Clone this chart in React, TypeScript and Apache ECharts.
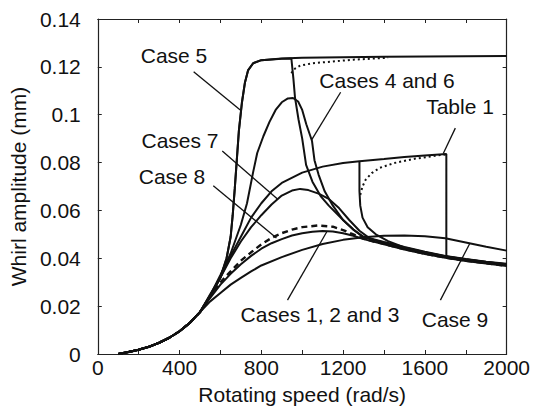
import React, { useEffect, useRef } from "react";
import * as echarts from "echarts";

// Shared run-up part of every response curve (rad/s, mm)
const baseSpeed = [100, 150, 200, 250, 300, 350, 400, 450, 500];
const baseAmp = [0, 0.0008, 0.0018, 0.003, 0.0047, 0.0068, 0.0095, 0.013, 0.0175];

// Case 5: jumps onto the large-orbit branch near 700 rad/s
const case5Speed = [550, 600, 630, 650, 660, 670, 680, 690, 705, 720, 735, 760, 800, 900, 1000, 1200, 1400, 1600, 1800, 2000];
const case5Amp = [0.024, 0.032, 0.04, 0.049, 0.058, 0.069, 0.081, 0.093, 0.105, 0.1135, 0.1185, 0.1215, 0.1228, 0.1235, 0.1238, 0.124, 0.1242, 0.1243, 0.1244, 0.1245];

// Case 6: same branch, drops back down near 950 rad/s
const case6Speed = [550, 600, 630, 650, 660, 670, 680, 690, 705, 720, 735, 760, 800, 900, 947, 957, 965, 982, 1000, 1019, 1050, 1090, 1130, 1200, 1250, 1300, 1400, 1500, 1600, 1700, 1800, 1900, 2000];
const case6Amp = [0.024, 0.032, 0.04, 0.049, 0.058, 0.069, 0.081, 0.093, 0.105, 0.1135, 0.1185, 0.1215, 0.1228, 0.1234, 0.1235, 0.115, 0.107, 0.098, 0.09, 0.079, 0.072, 0.066, 0.062, 0.056, 0.052, 0.0487, 0.0466, 0.0444, 0.0424, 0.0408, 0.0395, 0.0384, 0.0374];

// Unstable branch next to the Case 6 drop
const topDotSpeed = [947, 960, 990, 1050, 1145, 1250, 1420];
const topDotAmp = [0.1173, 0.119, 0.1205, 0.1215, 0.1222, 0.123, 0.1238];

// Case 4: resonance peak around 955 rad/s
const case4Speed = [550, 600, 650, 700, 730, 760, 780, 810, 840, 870, 900, 930, 955, 980, 1000, 1020, 1048, 1060, 1080, 1110, 1150, 1200, 1250, 1300, 1400, 1500, 1600, 1700, 1800, 1900, 2000];
const case4Amp = [0.0245, 0.033, 0.042, 0.054, 0.063, 0.076, 0.084, 0.091, 0.097, 0.102, 0.1052, 0.1068, 0.107, 0.1055, 0.102, 0.096, 0.089, 0.081, 0.075, 0.068, 0.062, 0.056, 0.052, 0.049, 0.0468, 0.0447, 0.0427, 0.041, 0.0397, 0.0386, 0.0377];

// Table 1 parameters: slow rise, jump down at 1705 rad/s
const table1Speed = [550, 600, 650, 700, 750, 800, 850, 900, 1000, 1100, 1200, 1280, 1400, 1500, 1600, 1705, 1705, 1800, 1900, 2000];
const table1Amp = [0.0245, 0.032, 0.041, 0.049, 0.057, 0.063, 0.068, 0.0715, 0.0758, 0.0783, 0.0798, 0.0806, 0.0815, 0.0823, 0.083, 0.0836, 0.0403, 0.0392, 0.0381, 0.0371];

// Table 1 parameters: alternative drop at 1280 rad/s
const table1DropSpeed = [1280, 1280, 1284, 1295, 1320, 1360, 1420, 1500, 1600, 1700, 1800, 1900, 2000];
const table1DropAmp = [0.0806, 0.068, 0.062, 0.057, 0.053, 0.05, 0.0472, 0.0445, 0.0425, 0.0409, 0.0396, 0.0385, 0.0375];

// Table 1 unstable branch between the two drops
const table1DotSpeed = [1284, 1295, 1310, 1340, 1380, 1450, 1550, 1650, 1700];
const table1DotAmp = [0.0665, 0.07, 0.0728, 0.0756, 0.0778, 0.0798, 0.0816, 0.0828, 0.0834];

// Case 7
const case7Speed = [550, 600, 650, 700, 750, 800, 850, 900, 950, 990, 1030, 1080, 1130, 1180, 1230, 1280, 1330, 1400, 1500, 1600, 1700, 1800, 1900, 2000];
const case7Amp = [0.025, 0.032, 0.04, 0.047, 0.053, 0.058, 0.0625, 0.0662, 0.0683, 0.069, 0.0685, 0.067, 0.0648, 0.061, 0.056, 0.0515, 0.0483, 0.0463, 0.0442, 0.0422, 0.0406, 0.0393, 0.0382, 0.0372];

// Case 8 (dashed)
const case8Speed = [550, 600, 650, 700, 750, 800, 850, 900, 950, 1000, 1075, 1150, 1200, 1250, 1300, 1350, 1400, 1500, 1600, 1700, 1800, 1900, 2000];
const case8Amp = [0.024, 0.03, 0.0345, 0.039, 0.0425, 0.0458, 0.0485, 0.0505, 0.052, 0.053, 0.0537, 0.0532, 0.0518, 0.05, 0.0482, 0.047, 0.046, 0.0438, 0.0419, 0.0403, 0.039, 0.0379, 0.0369];

// Cases 1, 2 and 3 (coincident)
const case1Speed = [550, 600, 650, 700, 750, 800, 850, 900, 950, 1000, 1050, 1100, 1150, 1200, 1250, 1300, 1400, 1500, 1600, 1700, 1800, 1900, 2000];
const case1Amp = [0.0235, 0.029, 0.0335, 0.0375, 0.041, 0.044, 0.0463, 0.048, 0.0495, 0.0505, 0.0511, 0.0514, 0.0512, 0.0505, 0.0494, 0.048, 0.0459, 0.0437, 0.0418, 0.0402, 0.0389, 0.0378, 0.0368];

// Case 9
const case9Speed = [550, 600, 650, 700, 750, 800, 900, 1000, 1100, 1200, 1300, 1400, 1500, 1600, 1700, 1800, 1900, 2000];
const case9Amp = [0.022, 0.0255, 0.029, 0.0318, 0.0345, 0.037, 0.0405, 0.0435, 0.046, 0.0477, 0.0488, 0.0494, 0.0495, 0.0492, 0.0484, 0.0466, 0.0448, 0.0432];

// Annotation leader lines, [from, to] in (rad/s, mm)
const leaderLines = [
  [[469, 0.118], [697, 0.102]],
  [[1188, 0.1094], [1046, 0.0895]],
  [[1749, 0.0944], [1690, 0.0838]],
  [[609, 0.0848], [879, 0.0648]],
  [[565, 0.0703], [874, 0.0485]],
  [[928, 0.0225], [1121, 0.0512]],
  [[1676, 0.0225], [1821, 0.0464]],
];

// Annotation texts with their centre positions (px)
const annotationTexts = ["Case 5", "Cases 4 and 6", "Table 1", "Cases 7", "Case 8", "Cases 1, 2 and 3", "Case 9"];
const annotationPos = [
  [174, 55],
  [387, 80],
  [460, 106],
  [180, 140],
  [172, 176],
  [320, 314],
  [455, 319],
];

const FONT = "'Liberation Sans', Arial, Helvetica, sans-serif";
const INK = "#111";

const zip = (xs: number[], ys: number[]) => xs.map((x, i) => [x, ys[i]]);
const withBase = (xs: number[], ys: number[]) => zip([...baseSpeed, ...xs], [...baseAmp, ...ys]);

function curve(name: string, data: number[][], extra: any = {}) {
  return {
    type: "line",
    name,
    data,
    xAxisIndex: 0,
    yAxisIndex: 0,
    symbol: "none",
    smooth: false,
    silent: true,
    lineStyle: { color: INK, width: 2, ...(extra.lineStyle || {}) },
    z: extra.z ?? 3,
  };
}

export default function App() {
  const ref = useRef<HTMLDivElement>(null);

  useEffect(() => {
    if (!ref.current) return;
    const chart = echarts.init(ref.current, null, { renderer: "svg" });

    const textStyle = { fontFamily: FONT, fontSize: 21, color: INK };

    const series: any[] = [
      curve("Cases 1, 2 and 3", withBase(case1Speed, case1Amp)),
      curve("Case 8", withBase(case8Speed, case8Amp), { lineStyle: { type: [6, 4], width: 2.4 } }),
      curve("Case 9", withBase(case9Speed, case9Amp)),
      curve("Case 7", withBase(case7Speed, case7Amp)),
      curve("Case 4", withBase(case4Speed, case4Amp)),
      curve("Case 6", withBase(case6Speed, case6Amp)),
      curve("Case 5", withBase(case5Speed, case5Amp)),
      curve("Table 1", withBase(table1Speed, table1Amp)),
      curve("Table 1 drop", zip(table1DropSpeed, table1DropAmp)),
      curve("Case 6 unstable", zip(topDotSpeed, topDotAmp), { lineStyle: { type: [2, 3], width: 2 } }),
      curve("Table 1 unstable", zip(table1DotSpeed, table1DotAmp), { lineStyle: { type: [2, 3], width: 2 } }),
      ...leaderLines.map((seg, i) =>
        curve("leader " + i, seg, { lineStyle: { width: 1.3 }, z: 2 })
      ),
    ];

    const axisLineStyle = { color: "#222", width: 1.2 };

    chart.setOption({
      animation: false,
      backgroundColor: "#fff",
      grid: { left: 96, right: 23, top: 19, bottom: 62, containLabel: false },
      xAxis: [
        {
          type: "value",
          min: 0,
          max: 2000,
          interval: 200,
          axisLine: { show: true, onZero: false, lineStyle: axisLineStyle },
          axisTick: { show: true, inside: true, length: 4, lineStyle: { color: "#222", width: 1 } },
          axisLabel: {
            ...textStyle,
            margin: 3,
            formatter: (v: number) => (v % 400 === 0 ? String(v) : ""),
          },
          splitLine: { show: false },
          name: "Rotating speed (rad/s)",
          nameLocation: "middle",
          nameGap: 30,
          nameTextStyle: textStyle,
        },
        {
          type: "value",
          position: "top",
          min: 0,
          max: 2000,
          interval: 200,
          axisLine: { show: true, onZero: false, lineStyle: axisLineStyle },
          axisTick: { show: true, inside: true, length: 4, lineStyle: { color: "#222", width: 1 } },
          axisLabel: { show: false },
          splitLine: { show: false },
        },
      ],
      yAxis: [
        {
          type: "value",
          min: 0,
          max: 0.14,
          interval: 0.02,
          axisLine: { show: true, onZero: false, lineStyle: axisLineStyle },
          axisTick: { show: true, inside: true, length: 4, lineStyle: { color: "#222", width: 1 } },
          axisLabel: {
            ...textStyle,
            margin: 17,
            formatter: (v: number) => String(parseFloat(v.toFixed(2))),
          },
          splitLine: { show: false },
          name: "Whirl amplitude (mm)",
          nameLocation: "middle",
          nameGap: 64,
          nameTextStyle: textStyle,
        },
        {
          type: "value",
          position: "right",
          min: 0,
          max: 0.14,
          interval: 0.02,
          axisLine: { show: true, onZero: false, lineStyle: axisLineStyle },
          axisTick: { show: true, inside: true, length: 4, lineStyle: { color: "#222", width: 1 } },
          axisLabel: { show: false },
          splitLine: { show: false },
        },
      ],
      series,
      graphic: annotationTexts.map((t, i) => ({
        type: "text",
        x: annotationPos[i][0],
        y: annotationPos[i][1],
        silent: true,
        z: 10,
        style: {
          text: t,
          fontFamily: FONT,
          fontSize: 21,
          fill: INK,
          align: "center",
          verticalAlign: "middle",
        },
      })),
    });

    return () => chart.dispose();
  }, []);

  return (
    <div
      ref={ref}
      style={{ position: "fixed", left: 0, top: 0, width: 533, height: 416, background: "#fff" }}
    />
  );
}
